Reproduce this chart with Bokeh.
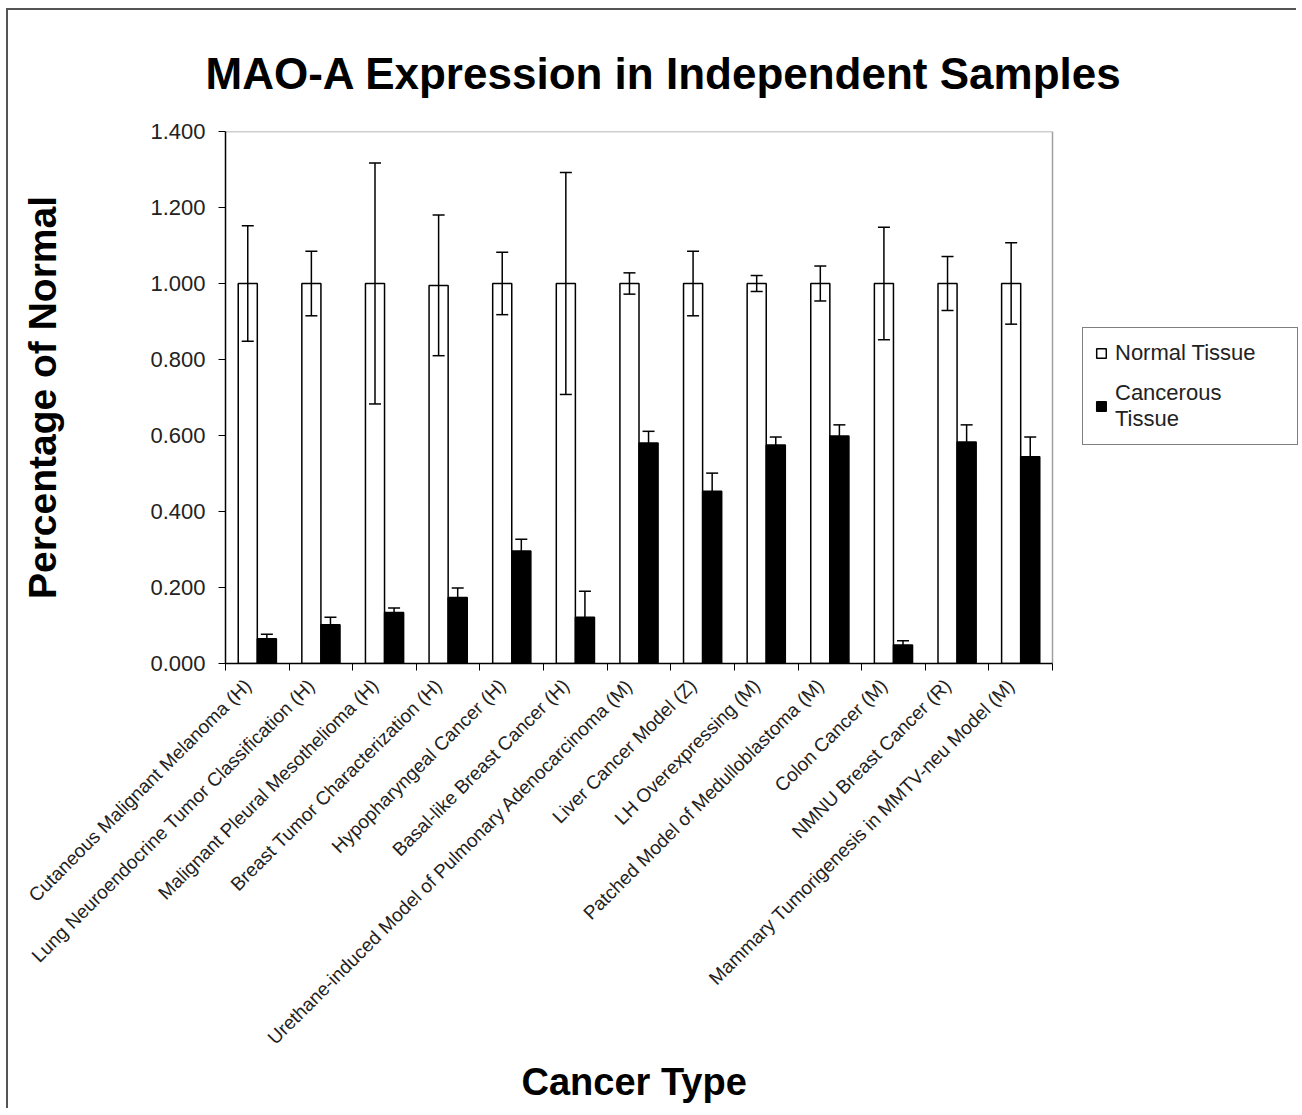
from math import pi
import numpy as np
from bokeh.plotting import figure
from bokeh.models import (ColumnDataSource, Whisker, TeeHead, FixedTicker,
                          NumeralTickFormatter, Legend, LegendItem, Range1d, Title)
from bokeh.embed import file_html
from bokeh.resources import INLINE

# ---------------- data ----------------
categories = [
    "Cutaneous Malignant Melanoma (H)",
    "Lung Neuroendocrine Tumor Classification (H)",
    "Malignant Pleural Mesothelioma (H)",
    "Breast Tumor Characterization (H)",
    "Hypopharyngeal Cancer (H)",
    "Basal-like Breast Cancer (H)",
    "Urethane-induced Model of Pulmonary Adenocarcinoma (M)",
    "Liver Cancer Model (Z)",
    "LH Overexpressing (M)",
    "Patched Model of Medulloblastoma (M)",
    "Colon Cancer (M)",
    "NMNU Breast Cancer (R)",
    "Mammary Tumorigenesis in MMTV-neu Model (M)",
]
normal = [1.0, 1.0, 1.0, 0.995, 1.0, 1.0, 1.0, 1.0, 1.0, 1.0, 1.0, 1.0, 1.0]
normal_err = [0.152, 0.085, 0.317, 0.185, 0.082, 0.292, 0.028, 0.085, 0.021, 0.046, 0.148, 0.071, 0.107]
cancer = [0.065, 0.102, 0.134, 0.174, 0.296, 0.122, 0.580, 0.453, 0.575, 0.599, 0.049, 0.583, 0.544]
cancer_err = [0.012, 0.020, 0.012, 0.025, 0.031, 0.068, 0.031, 0.048, 0.021, 0.029, 0.011, 0.045, 0.052]
y_ticks = [0.0, 0.2, 0.4, 0.6, 0.8, 1.0, 1.2, 1.4]

FONT = "Liberation Sans"

# ---------------- layout (pixels) ----------------
FIG_W, FIG_H = 1290, 1100
BORDER_L, BORDER_T, BORDER_B = 217, 121, 447
PLOT_W = 827                     # width of the bar area
FRAME_W = FIG_W - BORDER_L       # frame extends to the right edge (room for legend)

ncat = len(categories)
x_lo = 0.5
x_hi = x_lo + ncat                           # end of bar area (data units)
x_end = x_lo + ncat * FRAME_W / PLOT_W       # frame end (data units)
y_top = y_ticks[-1]
LABEL_SHIFT = 0.15                           # rotated labels end slightly left of centre

idx = np.arange(1, ncat + 1)
n = np.array(normal); ne = np.array(normal_err)
c = np.array(cancer); ce = np.array(cancer_err)

src_n = ColumnDataSource(dict(x=idx - 0.15, top=n, upper=n + ne, lower=n - ne))
src_c = ColumnDataSource(dict(x=idx + 0.15, top=c, upper=c + ce, lower=c))

p = figure(width=FIG_W, height=FIG_H, output_backend="svg", toolbar_location=None,
           x_range=Range1d(x_lo, x_end), y_range=Range1d(0, y_top),
           min_border_left=BORDER_L, min_border_right=0, min_border_top=BORDER_T,
           min_border_bottom=BORDER_B)
p.styles = {"margin-left": "6px", "margin-top": "8px",
            "border-top": "2px solid #555555", "border-left": "2px solid #555555"}

p.title.text = "MAO-A Expression in Independent Samples"
p.title.text_font = FONT
p.title.text_font_size = "44px"
p.title.text_font_style = "bold"
p.title.text_color = "black"
p.title.align = "left"
p.title.offset = -20
p.title.standoff = 68

p.xgrid.visible = False
p.ygrid.visible = False
p.outline_line_color = None

# grey frame edges (top and right) of the bar area
p.segment(x0=[x_lo, x_hi], y0=[y_top, 0], x1=[x_hi, x_hi], y1=[y_top, y_top],
          line_color="#a0a0a0", line_width=1.5)

r_n = p.vbar(x="x", top="top", width=0.3, source=src_n, fill_color="white",
             line_color="black", line_width=1.5)
r_c = p.vbar(x="x", top="top", width=0.3, source=src_c, fill_color="black",
             line_color="black", line_width=1.5)

w_n = Whisker(base="x", upper="upper", lower="lower", source=src_n,
              line_color="black", line_width=1.5, level="overlay",
              upper_head=TeeHead(size=12, line_color="black", line_width=1.5),
              lower_head=TeeHead(size=12, line_color="black", line_width=1.5))
w_c = Whisker(base="x", upper="upper", lower="lower", source=src_c,
              line_color="black", line_width=1.5, level="overlay",
              upper_head=TeeHead(size=12, line_color="black", line_width=1.5),
              lower_head=None)
p.add_layout(w_n)
p.add_layout(w_c)

# y axis
p.yaxis.ticker = FixedTicker(ticks=y_ticks)
p.yaxis.formatter = NumeralTickFormatter(format="0.000")
p.yaxis.major_tick_out = 7
p.yaxis.major_tick_in = 0
p.yaxis.minor_tick_line_color = None
p.yaxis.axis_line_color = "black"
p.yaxis.axis_line_width = 1.5
p.yaxis.major_label_text_font = FONT
p.yaxis.major_label_text_font_size = "22px"
p.yaxis.major_label_text_color = "#222222"
p.yaxis.major_label_standoff = 13
p.yaxis.axis_label = "Percentage of Normal"
p.yaxis.axis_label_text_font = FONT
p.yaxis.axis_label_text_font_size = "39px"
p.yaxis.axis_label_text_font_style = "bold"
p.yaxis.axis_label_text_color = "black"
p.yaxis.axis_label_standoff = 83

# x axis
label_pos = [round(float(i) - LABEL_SHIFT, 2) for i in idx]
p.xaxis.bounds = (x_lo, x_hi)
p.xaxis.ticker = FixedTicker(ticks=label_pos, minor_ticks=[i + 0.5 for i in range(ncat + 1)])
p.xaxis.major_label_overrides = {pos: lab for pos, lab in zip(label_pos, categories)}
p.xaxis.major_tick_line_color = None
p.xaxis.major_tick_out = 0
p.xaxis.major_tick_in = 0
p.xaxis.minor_tick_line_color = "black"
p.xaxis.minor_tick_out = 7
p.xaxis.minor_tick_in = 0
p.xaxis.axis_line_color = "black"
p.xaxis.axis_line_width = 1.5
p.xaxis.major_label_orientation = pi / 4
p.xaxis.major_label_text_font = FONT
p.xaxis.major_label_text_font_size = "19px"
p.xaxis.major_label_text_color = "#222222"
p.xaxis.major_label_standoff = 12

xlabel = Title(text="Cancer Type", text_font=FONT, text_font_size="38px",
               text_font_style="bold", text_color="black", align="left",
               offset=296, standoff=0)
p.add_layout(xlabel, "below")

legend = Legend(items=[LegendItem(label="Normal Tissue", renderers=[r_n]),
                       LegendItem(label="Cancerous\nTissue", renderers=[r_c])],
                location=(857, 218))
legend.border_line_color = "black"
legend.border_line_width = 1.5
legend.background_fill_color = "white"
legend.label_text_font = FONT
legend.label_text_font_size = "22px"
legend.label_text_color = "#222222"
legend.label_width = 170
legend.glyph_width = 12
legend.glyph_height = 12
legend.label_standoff = 8
legend.padding = 12
legend.spacing = 14
legend.margin = 0
p.add_layout(legend)

open("out.html", "w").write(file_html(p, INLINE))
